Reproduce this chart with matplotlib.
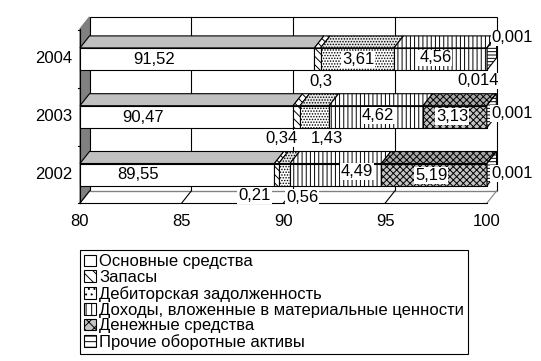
import matplotlib.pyplot as plt
from matplotlib.patches import Polygon, Patch

plt.rcParams['font.family'] = ['Liberation Sans', 'DejaVu Sans']
plt.rcParams['hatch.linewidth'] = 0.7

years = ["2002", "2003", "2004"]
series = ["Основные средства", "Запасы", "Дебиторская задолженность",
          "Доходы, вложенные в материальные ценности", "Денежные средства",
          "Прочие оборотные активы"]
osn = [89.55, 90.47, 91.52]
zapasy = [0.21, 0.34, 0.3]
debit = [0.56, 1.43, 3.61]
dohody = [4.49, 4.62, 4.56]
dengi = [5.19, 3.13, 0.014]
prochie = [0.001, 0.001, 0.001]
labels = [["89,55", "0,21", "0,56", "4,49", "5,19", "0,001"],
          ["90,47", "0,34", "1,43", "4,62", "3,13", "0,001"],
          ["91,52", "0,3", "3,61", "4,56", "0,014", "0,001"]]

values = [osn, zapasy, debit, dohody, dengi, prochie]

# looks of each series: face colour, hatch, colour of the top face
styles = [("white", "", "#c0c0c0"),
          ("white", "\\\\\\\\", "white"),
          ("white", "......", "#e8e8e8"),
          ("white", "||||", "white"),
          ("#c4c4c4", "xxxxx", "#a8a8a8"),
          ("white", "-----", "white")]

# label offsets in pixels from the centre of each segment
lbl_off = [[(-39, 0), (-22, 21), (18, 23), (21, -3), (-3, 1), (25, -1)],
           [(-43, 1), (-15, 22), (12, 22), (2, -1), (-3, 0), (25, -3)],
           [(-43, 1), (3, 23), (1, 1), (-5, -1), (-9, 22), (25, -21)]]

W, H = 541, 361
fig = plt.figure(figsize=(W / 100, H / 100), dpi=100)
ax = fig.add_axes([0, 0, 1, 1])
ax.axis("off")

xmin, xmax = 80, 100
x0px, x1px = 80, 487
ppu = (x1px - x0px) / (xmax - xmin)
ax.set_xlim(xmin - x0px / ppu, xmin + (W - x0px) / ppu)
ax.set_ylim(H, 0)

ddx = 9.5 / ppu     # depth, value units
ddy = -12           # depth, pixels
y_front_top, y_floor = 29, 203
row0, row_step, bar_h = 174.5, -57.8, 22

# walls and floor
ax.add_patch(Polygon([(xmin, y_front_top), (xmin + ddx, y_front_top + ddy),
                      (xmin + ddx, y_floor + ddy), (xmin, y_floor)],
                     closed=True, facecolor="#808080", edgecolor="#808080",
                     zorder=0))
ax.add_patch(Polygon([(xmin + ddx, y_front_top + ddy), (xmax + ddx, y_front_top + ddy),
                      (xmax + ddx, y_floor + ddy), (xmin + ddx, y_floor + ddy)],
                     closed=True, facecolor="white", edgecolor="black", lw=0.8,
                     zorder=0))
ax.plot([xmin + ddx, xmax + ddx], [y_floor + ddy] * 2, color="#808080", lw=0.8, zorder=1)
ticks = list(range(xmin, xmax + 1, 5))
for t in ticks:
    if xmin < t < xmax:
        ax.plot([t + ddx, t + ddx], [y_front_top + ddy, y_floor + ddy],
                color="black", lw=0.8, zorder=0.5)
    ax.plot([t, t + ddx], [y_floor, y_floor + ddy],
            color="black" if t < xmax else "#808080", lw=0.8, zorder=1)
    ax.text(t, y_floor + 18, str(t), ha="center", va="center", fontsize=12)
ax.plot([xmin, xmax], [y_floor, y_floor], color="black", lw=0.8, zorder=1)
ax.plot([xmin, xmin], [y_front_top, y_floor], color="black", lw=0.8, zorder=1)
for i in range(len(years) + 1):
    yt = row0 - row_step / 2 + i * row_step
    ax.plot([xmin - 2 / ppu, xmin], [yt, yt], color="black", lw=0.8, zorder=1)

# bars
for i, yr in enumerate(years):
    yc = row0 + i * row_step
    ytop = yc - bar_h / 2
    left = 0
    ax.text(xmin - 8 / ppu, yc, yr, ha="right", va="center", fontsize=12)
    for k, vals in enumerate(values):
        v = vals[i]
        fc, hatch, topc = styles[k]
        a = max(left, xmin)
        b = left + v
        ax.barh(yc, b - a, left=a, height=bar_h, facecolor=fc, hatch=hatch,
                edgecolor="black", lw=0.8, zorder=2)
        ax.add_patch(Polygon([(a, ytop), (b, ytop), (b + ddx, ytop + ddy), (a + ddx, ytop + ddy)],
                             closed=True, facecolor=topc, hatch=hatch,
                             edgecolor="black", lw=0.8, zorder=2))
        if k == len(values) - 1:
            ax.add_patch(Polygon([(b, ytop), (b + ddx, ytop + ddy),
                                  (b + ddx, ytop + bar_h + ddy), (b, ytop + bar_h)],
                                 closed=True, facecolor="white", hatch=hatch,
                                 edgecolor="black", lw=0.8, zorder=2))
        cx = (a + b) / 2
        ox, oy = lbl_off[i][k]
        ax.text(cx + ox / ppu, yc + oy, labels[i][k], ha="center", va="center",
                fontsize=12, zorder=5,
                bbox=dict(boxstyle="square,pad=0.05", facecolor="white", edgecolor="none"))
        left = b

handles = []
for k, name in enumerate(series):
    fc, hatch, topc = styles[k]
    handles.append(Patch(facecolor=fc, hatch=hatch[:3] if hatch else "",
                         edgecolor="black", lw=0.8, label=name))

leg = fig.legend(handles=handles, loc="upper left",
                 bbox_to_anchor=(80 / W, 1 - 250 / H), fontsize=12,
                 frameon=True, fancybox=False, edgecolor="black", framealpha=1,
                 handlelength=0.7, handleheight=0.7, handletextpad=0.2,
                 labelspacing=0.05, borderpad=0.25, borderaxespad=0)
leg.get_frame().set_linewidth(0.8)

fig.savefig("out.png", dpi=100)
